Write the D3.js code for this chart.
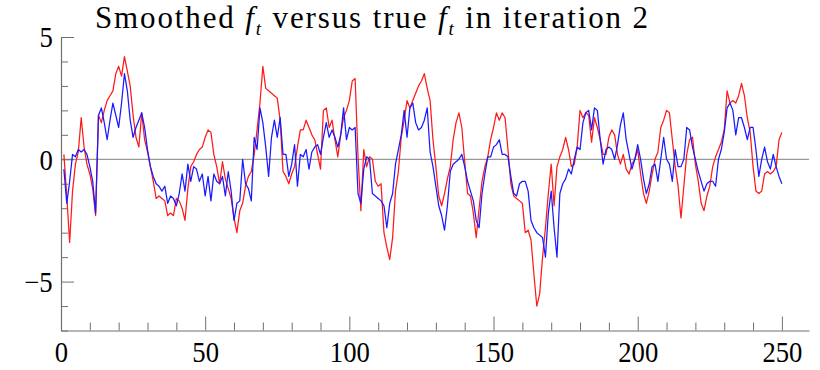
<!DOCTYPE html>
<html><head><meta charset="utf-8">
<script src="https://cdn.jsdelivr.net/npm/d3@7"></script>
<style>
html,body{margin:0;padding:0;background:#fff;}
svg{display:block;}
text{font-family:"Liberation Serif","Times New Roman",serif;}
</style></head>
<body>
<svg id="chart" width="820" height="370"></svg>
<script>
// true f_t (red)
const trueF = [
 0.2,-1.5,-3.4,-1.3,-0.2,0.3,1.7,0.5,-0.2,-0.6,
 -1.2,-2.3,1.8,1.5,2.0,2.4,2.6,2.8,3.5,3.8,
 3.4,4.2,3.6,3.0,1.8,0.9,0.5,1.9,0.8,0.3,
 -0.3,-0.9,-1.6,-1.5,-1.6,-1.7,-2.3,-2.2,-2.3,-1.6,
 -1.7,-2.0,-2.5,-1.2,-0.3,-0.1,0.2,0.4,0.5,0.9,
 1.2,1.1,0.2,-0.3,-1.0,-0.1,-0.8,-1.2,-1.6,-2.4,
 -3.0,-2.1,-1.8,-1.1,-0.7,-0.5,0.2,1.2,2.3,3.8,
 2.9,2.8,2.7,2.6,2.5,1.6,-0.5,-0.7,-1.0,-0.6,
 -0.3,0.5,1.2,1.2,1.6,1.3,1.0,0.8,0.2,-0.4,
 2.0,2.1,1.3,1.6,0.8,0.1,1.0,1.7,2.0,2.4,
 3.2,3.3,0.1,-2.1,0.4,-0.3,0.1,0.0,-0.9,-1.1,
 -1.0,-3.0,-3.6,-4.1,-3.2,-1.3,-0.5,0.9,1.6,2.4,
 2.1,2.4,2.7,3.0,3.2,3.5,2.9,2.4,0.8,-0.3,
 -1.5,-1.9,-1.4,-0.8,-0.3,0.8,1.5,1.9,1.3,-0.1,
 -1.4,-1.5,-2.2,-3.2,-2.0,-0.9,-0.3,0.1,0.8,1.3,
 1.9,1.6,1.9,1.7,0.4,-1.0,-1.5,-1.6,-1.7,-1.8,
 -3.0,-2.9,-3.3,-4.7,-6.0,-5.5,-4.0,-2.8,-1.4,-0.2,
 -1.9,-0.3,0.1,0.4,0.9,0.4,-0.3,-0.2,0.5,2.0,
 1.7,1.9,1.8,0.7,1.7,1.3,0.8,0.2,0.2,0.9,
 1.2,1.0,0.2,-0.2,0.2,-0.4,-0.6,-0.2,0.0,0.4,
 -0.6,-1.4,-1.8,-1.3,-0.6,0.0,0.3,1.3,1.6,2.0,
 1.9,0.8,-0.3,-1.1,-2.4,-1.1,0.2,0.8,0.9,-0.2,
 -0.9,-1.8,-2.1,-1.5,-1.1,-0.3,0.1,0.4,0.7,1.2,
 2.8,2.3,2.4,2.3,2.6,3.1,2.6,1.7,1.1,-0.3,
 -1.3,-1.4,-1.3,-0.6,-0.5,-0.6,-0.5,-0.3,0.8,1.1
];
// smoothed f_t (blue)
const smoothedF = [
 -0.4,-1.8,-0.9,0.2,0.1,0.4,0.3,0.4,0.2,-0.3,
 -0.9,-2.2,1.8,2.1,1.5,0.8,1.6,2.3,1.8,1.3,
 2.3,3.5,2.8,1.6,0.9,1.3,1.6,1.9,1.3,0.4,
 -0.3,-0.7,-1.0,-1.1,-1.3,-1.1,-1.8,-1.5,-1.6,-1.9,
 -1.4,-0.6,-1.3,-0.2,-0.9,-0.3,-0.4,-0.9,-0.6,-1.5,
 -0.7,-1.7,-0.6,-0.9,-1.0,-0.7,-1.5,-0.5,-1.3,-2.5,
 -1.8,-1.7,0.0,-1.0,-1.2,-1.7,0.9,0.4,2.1,1.5,
 0.5,-0.7,0.9,1.6,0.9,1.7,0.2,0.2,-0.7,-0.2,
 0.6,-1.1,0.2,0.1,0.4,-0.4,0.3,0.5,0.6,0.2,
 0.9,1.5,0.9,1.2,0.9,0.5,1.0,2.1,0.8,1.3,
 1.2,1.3,-1.4,-1.8,-0.4,0.1,0.0,-1.4,-1.5,-1.6,
 -1.7,-1.9,-2.8,-1.8,-1.4,-0.2,0.4,1.0,2.0,0.9,
 2.1,2.3,1.5,1.2,1.3,1.6,2.1,0.3,-0.3,-1.1,
 -1.9,-2.3,-2.9,-1.9,-0.5,-0.2,-0.1,0.0,0.2,-0.3,
 -0.9,-1.3,-1.7,-2.5,-2.8,-1.4,-0.6,0.1,0.1,0.5,
 0.6,0.8,0.2,0.2,0.1,-0.7,-1.4,-1.5,-1.0,-0.9,
 -0.9,-1.3,-2.5,-2.8,-3.0,-3.1,-3.2,-4.0,-2.2,-1.3,
 -2.8,-4.0,-1.4,-1.0,-0.8,-0.4,-0.6,0.0,0.5,0.4,
 1.5,1.9,2.0,1.2,2.1,2.0,0.8,-0.2,0.4,0.5,
 0.4,0.0,0.6,1.4,1.9,0.8,0.2,-0.4,0.0,0.6,
 0.0,-0.8,-1.4,-1.0,-0.3,-0.2,-0.9,0.0,0.9,0.0,
 -0.2,-0.9,0.4,-0.3,-0.3,0.0,1.3,1.2,0.5,0.0,
 -0.5,-0.9,-1.3,-1.0,-0.9,-0.9,-1.1,0.0,0.4,1.1,
 2.1,2.3,2.0,1.0,1.7,1.7,1.3,0.8,1.3,1.3,
 0.4,-0.7,0.0,0.5,-0.1,-0.4,0.2,-0.3,-0.7,-1.0
];
const xMajorTicks = [0, 50, 100, 150, 200, 250];
const yMajorTicks = [5, 0, -5];
const yTickLabels = ["5", "0", "\u22125"];

const svg = d3.select("#chart");
const x = d3.scaleLinear().domain([0, 259.4]).range([61, 809]);
const y = d3.scaleLinear().domain([-7, 5]).range([330.5, 37]);

const axisColor = "#707070";

// zero line
svg.append("line")
  .attr("x1", x(0)).attr("x2", x(259.4))
  .attr("y1", y(0)).attr("y2", y(0))
  .attr("stroke", "#999").attr("stroke-width", 1.2);

// x axis minor
const xMinor = d3.range(0, 260, 10).filter(v => v % 50 !== 0);
const gxMinor = svg.append("g").attr("transform", `translate(0,${y(-7)})`)
  .call(d3.axisBottom(x).tickValues(xMinor).tickSize(-8).tickFormat(""));
const gx = svg.append("g").attr("transform", `translate(0,${y(-7)})`)
  .call(d3.axisBottom(x).tickValues(xMajorTicks).tickSize(-14).tickSizeOuter(0).tickPadding(11).tickFormat(d3.format("d")));

// y axis
const yMinor = d3.range(-7, 6, 1).filter(v => v % 5 !== 0);
const gyMinor = svg.append("g").attr("transform", `translate(${x(0)},0)`)
  .call(d3.axisLeft(y).tickValues(yMinor).tickSize(-7).tickFormat(""));
const gy = svg.append("g").attr("transform", `translate(${x(0)},0)`)
  .call(d3.axisLeft(y).tickValues(yMajorTicks).tickSize(-13).tickSizeOuter(0).tickPadding(9)
    .tickFormat((d, i) => yTickLabels[i]));

[gxMinor, gx, gyMinor, gy].forEach(g => {
  g.select(".domain").attr("stroke", axisColor).attr("stroke-width", 1.2);
  g.selectAll(".tick line").attr("stroke", axisColor).attr("stroke-width", 1);
  g.selectAll("text").attr("font-size", 29).attr("fill", "#000")
    .attr("font-family", "'Liberation Serif','Times New Roman',serif");
});
gxMinor.select(".domain").remove();
gyMinor.select(".domain").remove();
gy.selectAll("text").attr("dy", "0.34em");
gx.selectAll(".tick text").attr("transform", "scale(0.92,1)");
gy.selectAll(".tick text").attr("transform", "scale(0.92,1)");

// lines
const line = d3.line().x((d, i) => x(i + 1)).y(d => y(d));
svg.append("path").datum(trueF).attr("d", line)
  .attr("fill", "none").attr("stroke", "#ff1a1a").attr("stroke-width", 1.25).attr("stroke-linejoin", "round");
svg.append("path").datum(smoothedF).attr("d", line)
  .attr("fill", "none").attr("stroke", "#1a1aff").attr("stroke-width", 1.25).attr("stroke-linejoin", "round");

// title
const title = svg.append("text").attr("x", 95).attr("y", 28).attr("font-size", 31).attr("fill", "#000")
  .attr("textLength", 553).attr("lengthAdjust", "spacing");
title.append("tspan").text("Smoothed ");
title.append("tspan").attr("font-style", "italic").text("f");
title.append("tspan").attr("font-style", "italic").attr("font-size", 19).attr("dy", 7).text("t");
title.append("tspan").attr("dy", -7).text(" versus true ");
title.append("tspan").attr("font-style", "italic").text("f");
title.append("tspan").attr("font-style", "italic").attr("font-size", 19).attr("dy", 7).text("t");
title.append("tspan").attr("dy", -7).text(" in iteration 2");
</script>
</body></html>
